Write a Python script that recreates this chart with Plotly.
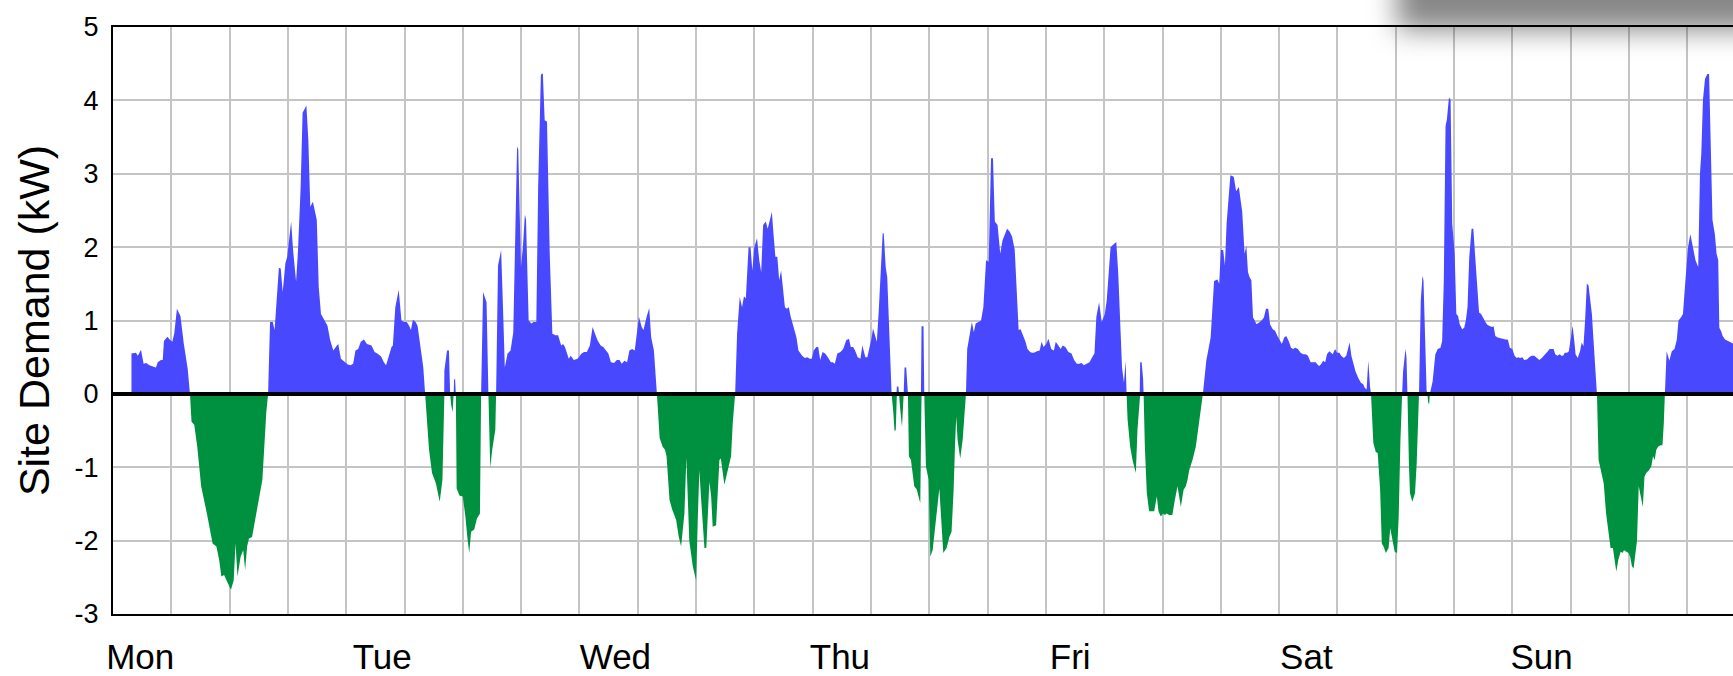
import base64
import plotly.graph_objects as go

# ---- data: (hour since Monday 00:00, site demand kW) ----
mon = [(1.9, 0.55), (2.36, 0.56), (2.56, 0.52), (2.88, 0.60), (3.15, 0.41), (3.43, 0.42), (3.74, 0.39),
       (4.14, 0.37), (4.41, 0.36), (4.61, 0.43), (4.93, 0.46), (5.12, 0.46), (5.24, 0.72), (5.6, 0.78),
       (5.83, 0.74), (6.1, 0.71), (6.3, 0.82), (6.58, 1.16), (6.94, 1.06), (7.29, 0.68), (7.69, 0.34),
       (7.92, 0.0), (8.08, -0.38), (8.36, -0.42), (8.67, -0.72), (9.07, -1.26), (9.66, -1.63),
       (10.25, -2.04), (10.64, -2.08), (10.92, -2.26), (11.15, -2.49), (11.43, -2.47), (11.82, -2.58),
       (12.14, -2.67), (12.42, -2.54), (12.61, -2.04), (12.81, -2.49), (13.13, -2.22), (13.4, -2.13),
       (13.6, -2.4), (13.8, -2.08), (13.99, -1.97), (14.31, -1.95), (14.58, -1.76), (14.98, -1.49),
       (15.37, -1.17), (15.57, -0.72), (15.77, -0.26), (15.96, 0.0), (16.16, 0.98), (16.44, 0.98),
       (16.63, 0.87), (16.83, 1.28), (17.07, 1.72), (17.26, 1.71), (17.46, 1.39), (17.74, 1.78),
       (17.93, 1.87), (18.33, 2.35), (18.53, 1.96), (18.84, 1.53), (19.04, 1.96), (19.31, 2.82),
       (19.51, 3.83), (19.9, 3.93), (20.1, 3.46), (20.3, 2.55), (20.57, 2.62), (20.97, 2.37),
       (21.17, 1.46), (21.4, 1.09), (21.68, 1.02), (22.07, 0.93), (22.35, 0.73), (22.67, 0.59),
       (22.98, 0.65), (23.18, 0.68), (23.45, 0.48), (23.85, 0.43)]

tue = [(24.16, 0.40), (24.44, 0.39), (24.71, 0.41), (24.95, 0.59), (25.23, 0.61), (25.5, 0.71),
       (25.82, 0.74), (26.13, 0.68), (26.6, 0.66), (26.92, 0.57), (27.2, 0.55), (27.59, 0.51),
       (27.87, 0.43), (28.1, 0.39), (28.38, 0.50), (28.66, 0.64), (28.8, 0.66), (29.05, 1.18),
       (29.4, 1.42), (29.68, 1.0), (29.96, 0.98), (30.23, 0.98), (30.47, 0.93), (30.66, 0.87),
       (30.86, 1.01), (31.14, 0.98), (31.34, 0.93), (31.65, 0.59), (31.93, 0.36), (32.12, 0.0),
       (32.52, -0.76), (32.83, -1.08), (33.23, -1.22), (33.62, -1.47), (33.9, -1.17), (34.08, 0.0),
       (34.1, 0.32), (34.37, 0.59), (34.57, 0.59), (34.69, 0.0), (34.8, -0.15), (34.95, -0.25),
       (35.05, 0.0), (35.1, 0.2), (35.2, 0.2), (35.28, 0.0), (35.36, -1.29), (35.67, -1.39),
       (35.99, -1.4), (36.26, -1.67), (36.46, -1.95), (36.66, -2.17), (36.85, -1.88), (37.17, -1.85),
       (37.45, -1.70), (37.76, -1.63), (37.88, 0.0), (38.08, 1.39), (38.44, 1.25), (38.63, 0.0),
       (38.82, -1.01), (39.02, -0.76), (39.34, -0.49), (39.42, 0.0), (39.62, 1.75), (39.94, 1.96),
       (40.13, 1.18), (40.32, 0.36), (40.6, 0.55), (40.91, 0.59), (41.19, 0.84), (41.39, 2.19),
       (41.58, 3.37), (41.7, 3.33), (41.98, 1.73), (42.18, 2.0), (42.38, 2.44), (42.5, 2.38),
       (42.77, 1.0), (43.05, 0.96), (43.28, 0.98), (43.56, 0.98), (43.75, 2.82), (44.03, 4.35),
       (44.23, 4.37), (44.42, 3.73), (44.66, 3.71), (44.94, 1.91), (45.21, 0.82), (45.53, 0.80),
       (45.8, 0.80), (46.12, 0.66), (46.31, 0.68), (46.51, 0.64), (46.71, 0.57), (46.9, 0.48),
       (47.1, 0.52), (47.42, 0.46), (47.81, 0.48)]

wed = [(48.21, 0.55), (48.48, 0.57), (48.76, 0.57), (49.07, 0.66), (49.35, 0.91), (49.66, 0.8),
       (49.86, 0.73), (50.18, 0.66), (50.45, 0.64), (50.73, 0.59), (50.97, 0.55), (51.24, 0.43),
       (51.56, 0.42), (51.84, 0.46), (52.12, 0.46), (52.35, 0.41), (52.63, 0.45), (52.9, 0.43),
       (53.14, 0.59), (53.41, 0.61), (53.69, 0.59), (53.88, 0.80), (54.12, 1.05), (54.4, 0.91),
       (54.59, 0.87), (54.91, 1.05), (55.18, 1.17), (55.38, 0.77), (55.66, 0.59), (55.97, 0.0),
       (56.25, -0.6), (56.56, -0.72), (56.8, -0.76), (56.96, -0.85), (57.27, -1.45), (57.55, -1.58),
       (57.95, -1.72), (58.22, -1.95), (58.46, -2.08), (58.8, -1.63), (59.0, -0.87), (59.3, -2.0),
       (59.66, -2.35), (60.0, -2.54), (60.2, -1.6), (60.34, -1.04), (60.5, -1.4), (60.86, -2.1),
       (61.05, -2.1), (61.37, -1.2), (61.55, -1.4), (61.71, -1.81), (62.06, -1.79), (62.4, -0.9),
       (62.55, -0.88), (62.91, -1.24), (63.26, -1.04), (63.6, -0.85), (63.77, -0.4), (64.02, 0.0),
       (64.22, 0.82), (64.49, 1.32), (64.73, 1.18), (64.93, 1.33), (65.12, 1.3), (65.4, 2.0),
       (65.6, 2.0), (65.79, 1.68), (65.99, 2.0), (66.27, 2.12), (66.5, 1.82), (66.7, 1.66),
       (66.9, 2.3), (67.17, 2.35), (67.37, 2.25), (67.57, 2.37), (67.8, 2.48), (67.96, 2.19),
       (68.16, 1.87), (68.36, 1.87), (68.55, 1.55), (68.75, 1.68), (68.95, 1.46), (69.14, 1.18),
       (69.34, 1.16), (69.54, 1.18), (69.74, 1.05), (69.93, 0.96), (70.13, 0.84), (70.33, 0.77),
       (70.53, 0.59), (70.72, 0.55), (70.92, 0.52), (71.19, 0.49), (71.43, 0.50), (71.71, 0.48),
       (71.9, 0.48)]

thu = [(72.1, 0.59), (72.38, 0.64), (72.57, 0.64), (72.77, 0.46), (73.01, 0.57), (73.28, 0.55),
       (73.56, 0.5), (73.87, 0.43), (74.07, 0.43), (74.27, 0.41), (74.54, 0.55), (74.86, 0.57),
       (75.14, 0.61), (75.45, 0.73), (75.73, 0.75), (75.92, 0.64), (76.16, 0.64), (76.36, 0.59),
       (76.63, 0.5), (76.91, 0.48), (77.11, 0.66), (77.3, 0.55), (77.42, 0.5), (77.62, 0.5),
       (77.82, 0.61), (78.01, 0.73), (78.21, 0.89), (78.41, 0.8), (78.6, 0.71), (78.8, 1.14),
       (79.0, 1.73), (79.2, 2.19), (79.31, 2.19), (79.51, 1.73), (79.67, 1.59), (79.87, 0.77),
       (80.05, 0.14), (80.12, 0.0), (80.3, -0.26), (80.42, -0.51), (80.55, -0.49), (80.62, 0.0),
       (80.66, 0.1), (80.82, 0.1), (80.88, 0.0), (81.0, -0.2), (81.19, -0.45), (81.36, 0.0),
       (81.45, 0.36), (81.62, 0.36), (81.8, 0.0), (81.9, -0.85), (82.11, -0.9), (82.45, -1.26),
       (82.7, -1.3), (83.07, -1.49), (83.14, 0.0), (83.2, 0.92), (83.4, 0.92), (83.48, 0.0),
       (83.65, -0.99), (83.93, -1.17), (84.1, -2.22), (84.34, -2.13), (84.68, -1.72), (85.03, -1.29),
       (85.27, -1.81), (85.44, -2.17), (85.78, -2.1), (86.06, -1.95), (86.29, -1.88), (86.5, -1.31),
       (86.64, -0.72), (86.77, -0.31), (86.91, -0.63), (87.18, -0.88), (87.43, -0.63), (87.6, -0.26),
       (87.77, 0.0), (87.9, 0.61), (88.14, 0.82), (88.38, 0.98), (88.58, 0.84), (88.77, 0.96),
       (89.05, 0.98), (89.32, 1.0), (89.56, 1.18), (89.84, 1.82), (90.11, 1.8), (90.35, 3.21),
       (90.55, 3.21), (90.74, 2.35), (91.02, 2.3), (91.3, 1.91), (91.53, 2.09), (91.73, 2.15),
       (92.0, 2.25), (92.28, 2.21), (92.52, 2.14), (92.79, 1.96), (92.99, 1.32), (93.19, 0.87),
       (93.39, 0.88), (93.66, 0.8), (93.9, 0.71), (94.1, 0.61), (94.37, 0.57), (94.57, 0.56),
       (94.77, 0.56), (95.08, 0.58), (95.36, 0.59), (95.55, 0.71), (95.75, 0.64)]

fri = [(96.03, 0.68), (96.26, 0.75), (96.54, 0.61), (96.82, 0.59), (97.01, 0.71), (97.25, 0.66),
       (97.52, 0.61), (97.72, 0.66), (98.0, 0.64), (98.31, 0.57), (98.63, 0.55), (98.9, 0.46),
       (99.18, 0.41), (99.42, 0.41), (99.69, 0.42), (99.89, 0.39), (100.17, 0.41), (100.48, 0.43),
       (100.76, 0.5), (100.99, 0.55), (101.19, 1.05), (101.47, 1.25), (101.74, 0.98), (102.06, 1.09),
       (102.26, 1.28), (102.45, 1.64), (102.65, 2.0), (102.97, 2.04), (103.24, 2.07), (103.44, 1.64),
       (103.64, 1.0), (103.83, 0.36), (104.03, 0.15), (104.2, 0.45), (104.3, 0.0), (104.4, -0.35),
       (104.67, -0.72), (104.91, -0.9), (105.25, -1.08), (105.42, -0.49), (105.6, -0.15), (105.65, 0.0),
       (105.7, 0.43), (105.85, 0.43), (106.0, 0.2), (106.05, 0.0), (106.18, -0.72), (106.38, -1.35),
       (106.62, -1.6), (106.97, -1.6), (107.14, -1.6), (107.41, -1.4), (107.58, -1.6), (107.82, -1.67),
       (108.06, -1.63), (108.23, -1.65), (108.43, -1.63), (108.67, -1.65), (109.01, -1.65),
       (109.26, -1.45), (109.54, -1.26), (109.88, -1.54), (110.16, -1.31), (110.39, -1.26),
       (110.57, -1.17), (110.74, -1.04), (111.08, -0.9), (111.42, -0.72), (111.77, -0.4),
       (111.94, -0.2), (112.15, 0.0), (112.5, 0.45), (112.95, 0.77), (113.3, 1.54), (113.65, 1.56),
       (113.83, 1.5), (114.0, 1.96), (114.24, 1.96), (114.42, 1.75), (114.59, 2.32), (114.98, 2.98),
       (115.33, 2.96), (115.57, 2.76), (115.85, 2.82), (116.02, 2.64), (116.2, 2.48), (116.44, 1.91),
       (116.62, 2.02), (116.79, 1.66), (116.96, 1.59), (117.14, 1.55), (117.31, 1.04), (117.49, 1.0),
       (117.66, 0.95), (117.91, 0.97), (118.19, 1.0), (118.43, 1.04), (118.64, 1.16), (118.88, 1.16),
       (119.06, 0.95), (119.34, 0.88), (119.58, 0.86), (119.82, 0.79)]

sat = [(120.03, 0.74), (120.28, 0.68), (120.52, 0.77), (120.73, 0.79), (120.98, 0.72), (121.22, 0.63),
       (121.43, 0.61), (121.67, 0.63), (121.92, 0.61), (122.2, 0.56), (122.48, 0.54), (122.72, 0.54),
       (122.96, 0.52), (123.24, 0.43), (123.52, 0.43), (123.77, 0.43), (123.94, 0.4), (124.11, 0.38),
       (124.29, 0.4), (124.53, 0.45), (124.74, 0.43), (124.92, 0.54), (125.16, 0.58), (125.34, 0.56),
       (125.51, 0.54), (125.75, 0.61), (125.96, 0.56), (126.2, 0.56), (126.38, 0.52), (126.66, 0.49),
       (126.9, 0.52), (127.08, 0.61), (127.25, 0.7), (127.43, 0.52), (127.6, 0.43), (127.85, 0.31),
       (128.13, 0.22), (128.41, 0.15), (128.65, 0.13), (128.82, 0.08), (129.0, 0.06), (129.17, 0.45),
       (129.35, 0.1), (129.45, 0.0), (129.69, -0.67), (129.93, -0.79), (130.14, -0.81), (130.39, -1.31),
       (130.56, -2.04), (130.74, -2.08), (130.98, -2.17), (131.26, -2.1), (131.43, -1.83),
       (131.61, -1.95), (131.89, -2.15), (132.13, -2.17), (132.3, -1.67), (132.48, -0.63),
       (132.65, 0.0), (132.75, 0.3), (133.0, 0.61), (133.1, 0.5), (133.2, 0.0), (133.35, -0.95),
       (133.46, -1.35), (133.7, -1.47), (133.98, -1.35), (134.15, -0.95), (134.29, -0.4), (134.39, 0.0),
       (134.57, 1.27), (134.75, 1.61), (134.85, 1.55), (135.03, 0.58), (135.17, 0.05), (135.25, 0.0),
       (135.35, -0.13), (135.44, -0.13), (135.5, 0.0), (135.79, 0.17), (136.07, 0.54), (136.32, 0.61),
       (136.6, 0.63), (136.77, 0.72), (136.94, 1.54), (137.12, 3.65), (137.26, 3.74), (137.47, 4.04),
       (137.64, 4.01), (137.81, 2.32), (138.06, 1.91), (138.23, 1.09), (138.41, 1.06), (138.58, 0.95),
       (138.83, 0.88), (139.04, 0.9), (139.21, 1.0), (139.38, 1.18), (139.56, 1.86), (139.8, 2.25),
       (139.98, 2.25), (140.15, 1.91), (140.33, 1.54), (140.57, 1.11), (140.78, 1.09), (141.02, 1.02),
       (141.27, 0.97), (141.44, 0.94), (141.65, 0.93), (141.89, 0.91), (142.07, 0.92), (142.24, 0.79),
       (142.49, 0.77), (142.77, 0.76), (143.04, 0.74), (143.29, 0.74), (143.53, 0.74), (143.74, 0.63),
       (143.99, 0.61)]

sun = [(144.23, 0.52), (144.44, 0.49), (144.61, 0.5), (144.79, 0.49), (145.03, 0.5), (145.21, 0.46),
       (145.49, 0.47), (145.73, 0.5), (145.97, 0.52), (146.25, 0.52), (146.53, 0.49), (146.78, 0.46),
       (147.02, 0.49), (147.23, 0.52), (147.47, 0.54), (147.65, 0.58), (147.82, 0.61), (148.0, 0.61),
       (148.24, 0.61), (148.41, 0.54), (148.62, 0.52), (148.87, 0.54), (149.04, 0.52), (149.22, 0.52),
       (149.39, 0.56), (149.63, 0.56), (149.81, 0.58), (150.02, 0.77), (150.19, 0.93), (150.37, 0.72),
       (150.5, 0.54), (150.72, 0.49), (150.96, 0.58), (151.13, 0.7), (151.31, 0.65), (151.48, 1.0),
       (151.66, 1.5), (151.83, 1.48), (152.0, 1.32), (152.18, 1.09), (152.35, 0.72), (152.53, 0.36),
       (152.7, 0.0), (152.87, -0.9), (153.22, -1.13), (153.4, -1.22), (153.64, -1.63), (153.92, -1.97),
       (154.1, -2.1), (154.34, -2.1), (154.55, -2.26), (154.69, -2.42), (154.9, -2.26), (155.14, -2.15),
       (155.32, -2.17), (155.49, -2.13), (155.73, -2.15), (155.95, -2.17), (156.12, -2.22),
       (156.3, -2.35), (156.47, -2.38), (156.64, -2.17), (156.82, -2.0), (157.0, -1.26), (157.24, -1.4),
       (157.42, -1.54), (157.59, -1.13), (157.77, -1.08), (158.05, -1.04), (158.29, -0.99),
       (158.47, -0.85), (158.64, -0.9), (158.81, -0.76), (158.99, -0.72), (159.23, -0.7),
       (159.44, -0.7), (159.58, -0.4), (159.69, 0.0), (159.87, 0.58), (160.15, 0.45), (160.4, 0.58),
       (160.68, 0.61), (160.92, 0.74), (161.09, 1.0), (161.34, 1.04), (161.55, 1.09), (161.8, 1.54),
       (162.07, 2.0), (162.31, 2.18), (162.56, 2.0), (162.84, 1.82), (163.12, 1.73), (163.3, 3.0),
       (163.44, 3.28), (163.61, 4.01), (163.82, 4.29), (164.06, 4.36), (164.24, 4.36), (164.41, 3.28),
       (164.59, 2.37), (164.83, 2.18), (165.01, 1.91), (165.18, 1.82), (165.29, 0.9), (165.46, 0.86),
       (165.64, 0.79), (165.88, 0.74), (166.16, 0.72), (166.51, 0.7), (166.78, 0.68)]

day_names = ["Mon", "Tue", "Wed", "Thu", "Fri", "Sat", "Sun"]
day_label_hours = [2.8, 27.7, 51.7, 74.8, 98.5, 122.8, 147.0]
y_tick_vals = [-3, -2, -1, 0, 1, 2, 3, 4, 5]
y_tick_text = ["-3", "-2", "-1", "0", "1", "2", "3", "4", "5"]

BLUE = "#4848FF"
GREEN = "#009140"
GRID = "#C4C4C4"
FONT = "Liberation Sans, Arial, sans-serif"

# ---- split into import (positive) / export (negative) areas ----
series = mon + tue + wed + thu + fri + sat + sun
pts = [series[0]]
for (h0, v0), (h1, v1) in zip(series[:-1], series[1:]):
    if v0 * v1 < 0:
        pts.append((h0 + (h1 - h0) * v0 / (v0 - v1), 0.0))
    pts.append((h1, v1))
hours = [p[0] for p in pts]
pos = [max(p[1], 0.0) for p in pts]
neg = [min(p[1], 0.0) for p in pts]

fig = go.Figure()
fig.add_trace(go.Scatter(x=hours, y=pos, mode="lines", fill="tozeroy", fillcolor=BLUE,
                         line=dict(width=0, color=BLUE), hoverinfo="skip"))
fig.add_trace(go.Scatter(x=hours, y=neg, mode="lines", fill="tozeroy", fillcolor=GREEN,
                         line=dict(width=0, color=GREEN), hoverinfo="skip"))

# soft drop shadow in the top-right corner (from an overlapping panel)
svg = ('<svg xmlns="http://www.w3.org/2000/svg" width="433" height="130" viewBox="0 0 433 130">'
       '<defs><filter id="b" x="-50%" y="-50%" width="200%" height="200%">'
       '<feGaussianBlur stdDeviation="14"/></filter></defs>'
       '<rect x="97" y="-250" width="500" height="280" fill="#000" fill-opacity="0.47" filter="url(#b)"/>'
       '</svg>')
svg_uri = "data:image/svg+xml;base64," + base64.b64encode(svg.encode()).decode()

L, T, B, W, H = 113, 27, 62, 1733, 676
pw, ph = W - L, H - T - B

fig.update_layout(
    width=W, height=H,
    margin=dict(l=L, r=0, t=T, b=B, pad=0, autoexpand=False),
    paper_bgcolor="white", plot_bgcolor="white",
    showlegend=False,
    font=dict(family=FONT, color="black"),
    xaxis=dict(
        range=[0, 166.7], tickmode="array", tickvals=day_label_hours, ticktext=day_names,
        showgrid=False, zeroline=False, ticks="", automargin=False,
        showline=True, linecolor="black", linewidth=2, mirror=True,
        tickfont=dict(size=35, family=FONT, color="black"), ticklabelstandoff=11,
        minor=dict(tickmode="linear", tick0=0, dtick=6, showgrid=True, gridcolor=GRID, gridwidth=2, ticks=""),
    ),
    yaxis=dict(
        range=[-3, 5], tickmode="array", tickvals=y_tick_vals, ticktext=y_tick_text,
        showgrid=True, gridcolor=GRID, gridwidth=2, zeroline=False, ticks="", automargin=False,
        showline=True, linecolor="black", linewidth=2,
        tickfont=dict(size=27, family=FONT, color="black"), ticklabelstandoff=7,
        title=dict(text="Site Demand (kW)", font=dict(size=43, family=FONT, color="black"), standoff=12),
    ),
    shapes=[dict(type="line", xref="paper", x0=0, x1=1, yref="y", y0=0, y1=0,
                 line=dict(color="black", width=4), layer="above")],
    images=[dict(source=svg_uri, xref="paper", yref="paper",
                 x=(1300 - L) / pw, y=(H - B) / ph, sizex=433 / pw, sizey=130 / ph,
                 xanchor="left", yanchor="top", sizing="stretch", layer="above")],
)

fig.write_html("out.html", config={"displayModeBar": False},
               post_script="document.body.style.margin='0';document.body.style.overflow='hidden';")
